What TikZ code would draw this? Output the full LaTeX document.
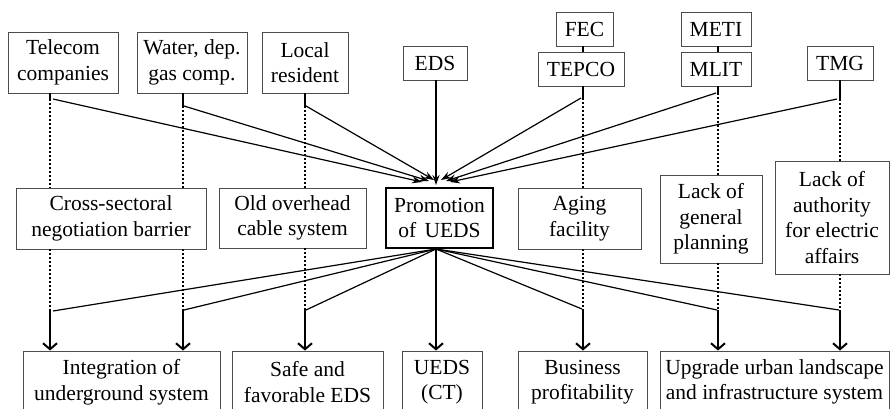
\documentclass[tikz,border=0pt]{standalone}
\usepackage{fontspec}
\setmainfont{Liberation Serif}
\usetikzlibrary{arrows.meta}
\newcommand\dgfont{\fontsize{21.5}{25.5}\selectfont}
\begin{document}
\begin{tikzpicture}[x=1pt,y=-1pt,
  box/.style={draw=black!70,line width=0.9pt,align=center,inner sep=0pt,font=\dgfont},
  thinl/.style={line width=1.2pt},
  dotl/.style={line width=2.2pt,dash pattern=on 2pt off 2pt},
  thickl/.style={line width=2.6pt},
  inarr/.style={thinl,-{Stealth[length=10pt,width=7pt]}},
  outarr/.style={thickl,-{Straight Barb[length=6pt,width=14pt,line width=2pt]}}]
\useasboundingbox (0,0) rectangle (891,408);
\clip (0,0) rectangle (891,408);
% top row
\node[box,minimum width=110,minimum height=61] (tel) at (63,62.5) {Telecom\\companies};
\node[box,minimum width=110,minimum height=61] (wat) at (192,62.5) {Water, dep.\\gas comp.};
\node[box,minimum width=86,minimum height=61] (loc) at (305,62.5) {Local\\resident};
\node[box,minimum width=64,minimum height=34] (eds) at (435,63) {EDS};
\node[box,minimum width=57,minimum height=34] (fec) at (584.5,29) {FEC};
\node[box,minimum width=86,minimum height=34] (tepco) at (581,69) {TEPCO};
\node[box,minimum width=70,minimum height=34] (meti) at (716,29) {METI};
\node[box,minimum width=70,minimum height=34] (mlit) at (716,69) {MLIT};
\node[box,minimum width=66,minimum height=34] (tmg) at (840,63) {TMG};
% middle row
\node[box,minimum width=190,minimum height=61] (cross) at (111,218.5) {Cross-sectoral\\negotiation barrier};
\node[box,minimum width=147,minimum height=60] (old) at (292.5,218) {Old overhead\\cable system};
\node[box,draw=black,line width=2.6pt,minimum width=107,minimum height=60] (promo) at (439.5,218) {Promotion\\of\hspace{3pt} UEDS};
\node[box,minimum width=123,minimum height=61] (aging) at (579.5,218.5) {Aging\\facility};
\node[box,minimum width=102,minimum height=88] (plan) at (711,219) {Lack of\\general\\planning};
\node[box,minimum width=114,minimum height=113] (auth) at (832,217.5) {Lack of\\authority\\for electric\\affairs};
% bottom row
\node[box,minimum width=197,minimum height=62] (integ) at (121.5,382) {Integration of\\underground system};
\node[box,minimum width=151,minimum height=62] (safe) at (307.5,382) {Safe and\\favorable EDS};
\node[box,minimum width=80,minimum height=62] (ueds) at (442,382) {UEDS\\(CT)};
\node[box,minimum width=129,minimum height=62] (bus) at (582.5,382) {Business\\profitability};
\node[box,minimum width=229,minimum height=62] (upg) at (774.5,382) {Upgrade urban landscape\\and infrastructure system};
% kink coordinates
\coordinate (ktel) at (50,99);
\coordinate (kwat) at (183,106);
\coordinate (kloc) at (305,106);
\coordinate (ktep) at (583,98);
\coordinate (kmlit) at (718,93);
\coordinate (ktmg) at (840,99);
\coordinate (btel) at (50,311);
\coordinate (bwat) at (183,310);
\coordinate (bloc) at (305,310);
\coordinate (btep) at (583,309);
\coordinate (bmlit) at (718,310);
\coordinate (btmg) at (840,310);
% arrow tips at promotion top
\coordinate (pin) at (436,185);
\coordinate (itel) at (422,182);
\coordinate (iwat) at (429,181);
\coordinate (iloc) at (434,180);
\coordinate (itep) at (441,180);
\coordinate (imlit) at (446,181);
\coordinate (itmg) at (450,182);
\coordinate (pout) at (436,249);
% links between stacked boxes
\draw[line width=2pt] (fec.south -| ktep) -- (tepco.north -| ktep);
\draw[line width=2pt] (meti.south -| kmlit) -- (mlit.north -| kmlit);
% thick stubs below the top boxes
\draw[thickl] (tel.south -| ktel) -- (ktel);
\draw[thickl] (wat.south -| kwat) -- (kwat);
\draw[thickl] (loc.south -| kloc) -- (kloc);
\draw[thickl] (tepco.south -| ktep) -- (ktep);
\draw[thickl] (mlit.south -| kmlit) -- (kmlit);
\draw[thickl] (tmg.south -| ktmg) -- (ktmg);
% dotted verticals
\draw[dotl] (ktel) -- (cross.north -| ktel);
\draw[dotl] (cross.south -| ktel) -- (btel);
\draw[dotl] (kwat) -- (cross.north -| kwat);
\draw[dotl] (cross.south -| kwat) -- (bwat);
\draw[dotl] (kloc) -- (old.north -| kloc);
\draw[dotl] (old.south -| kloc) -- (bloc);
\draw[dotl] (ktep) -- (aging.north -| ktep);
\draw[dotl] (aging.south -| ktep) -- (btep);
\draw[dotl] (kmlit) -- (plan.north -| kmlit);
\draw[dotl] (plan.south -| kmlit) -- (bmlit);
\draw[dotl] (ktmg) -- (auth.north -| ktmg);
\draw[dotl] (auth.south -| ktmg) -- (btmg);
% converging inputs
\draw[inarr] ([xshift=3pt]ktel) -- (itel);
\draw[inarr] ([xshift=1pt]kwat) -- (iwat);
\draw[inarr] ([xshift=1pt]kloc) -- (iloc);
\draw[inarr] ([xshift=-2pt]ktep) -- (itep);
\draw[inarr] ([xshift=-2pt]kmlit) -- (imlit);
\draw[inarr] ([xshift=-3pt]ktmg) -- (itmg);
\draw[thickl,-{Stealth[length=10pt,width=7pt]}] (eds.south -| pin) -- (pin);
% diverging outputs
\draw[thinl] (pout) -- ([xshift=3pt]btel);
\draw[thinl] (pout) -- ([xshift=1pt]bwat);
\draw[thinl] (pout) -- ([xshift=1pt]bloc);
\draw[thinl] (pout) -- ([xshift=-1pt]btep);
\draw[thinl] (pout) -- ([xshift=-1pt]bmlit);
\draw[thinl] (pout) -- ([xshift=-1pt]btmg);
% bottom arrows
\draw[outarr] (btel) -- (integ.north -| btel);
\draw[outarr] (bwat) -- (integ.north -| bwat);
\draw[outarr] (bloc) -- (safe.north -| bloc);
\draw[outarr] (pout) -- (ueds.north -| pout);
\draw[outarr] (btep) -- (bus.north -| btep);
\draw[outarr] (bmlit) -- (upg.north -| bmlit);
\draw[outarr] (btmg) -- (upg.north -| btmg);
\end{tikzpicture}
\end{document}
